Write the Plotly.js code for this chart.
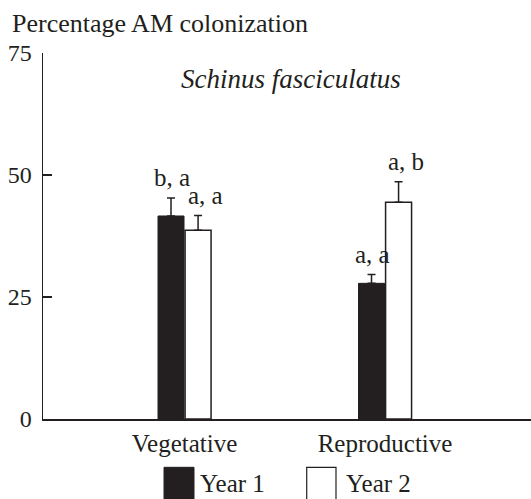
<!DOCTYPE html>
<html>
<head>
<meta charset="utf-8">
<script src="https://cdn.plot.ly/plotly-3.0.1.min.js"></script>
<style>html,body{margin:0;padding:0;background:#fff;}#chart{width:531px;height:499px;}</style>
</head>
<body>
<div id="chart"></div>
<script>
var categories = ["Vegetative", "Reproductive"];
var year1 = [41.6, 27.8];
var year1Err = [3.7, 1.8];
var year2 = [38.7, 44.4];
var year2Err = [3.0, 4.2];
var year1Letters = ["b, a", "a, a"];
var year2Letters = ["a, a", "a, b"];
var yTicks = [0, 25, 50, 75];

var ink = "#231f20";
var serif = "Liberation Serif, Times New Roman, serif";

var traces = [
  {
    type: "bar", name: "Year 1", x: categories, y: year1,
    marker: {color: ink, line: {color: ink, width: 1}},
    error_y: {type: "data", symmetric: false, array: year1Err, arrayminus: [0, 0], color: ink, thickness: 1.5, width: 4},
    showlegend: false, hoverinfo: "skip"
  },
  {
    type: "bar", name: "Year 2", x: categories, y: year2,
    marker: {color: "#ffffff", line: {color: ink, width: 1.5}},
    error_y: {type: "data", symmetric: false, array: year2Err, arrayminus: [0, 0], color: ink, thickness: 1.5, width: 4},
    showlegend: false, hoverinfo: "skip"
  }
];

var annotations = [];
categories.forEach(function (c, i) {
  annotations.push({x: c, y: year1[i] + year1Err[i], xref: "x", yref: "y", text: year1Letters[i],
    showarrow: false, xshift: -13, yanchor: "bottom", yshift: 5, font: {family: serif, size: 25, color: ink}});
  annotations.push({x: c, y: year2[i] + year2Err[i], xref: "x", yref: "y", text: year2Letters[i],
    showarrow: false, xshift: 21, yanchor: "bottom", yshift: 5, font: {family: serif, size: 25, color: ink}});
});
annotations.push({xref: "paper", yref: "paper", x: 0.509, y: 0.929, text: "<i>Schinus fasciculatus</i>",
  showarrow: false, xanchor: "center", yanchor: "middle", font: {family: serif, size: 27, color: ink}});
// legend labels
annotations.push({xref: "paper", yref: "paper", x: 0.3176, y: -0.1749, text: "Year 1", showarrow: false,
  xanchor: "left", yanchor: "middle", font: {family: serif, size: 25, color: ink}});
annotations.push({xref: "paper", yref: "paper", x: 0.6168, y: -0.1749, text: "Year 2", showarrow: false,
  xanchor: "left", yanchor: "middle", font: {family: serif, size: 25, color: ink}});

var shapes = [
  {type: "rect", xref: "paper", yref: "paper", x0: 0.2480, x1: 0.3094, y0: -0.1320, y1: -0.2300,
   fillcolor: ink, line: {color: ink, width: 1}},
  {type: "rect", xref: "paper", yref: "paper", x0: 0.5404, x1: 0.6004, y0: -0.1320, y1: -0.2300,
   fillcolor: "#ffffff", line: {color: ink, width: 1.2}}
];

var layout = {
  width: 531, height: 499,
  margin: {l: 43, r: 0, t: 53, b: 80, pad: 0},
  paper_bgcolor: "#ffffff", plot_bgcolor: "#ffffff",
  font: {family: serif, size: 25, color: ink},
  barmode: "group", bargap: 0.73, bargroupgap: 0.04,
  title: {text: "Percentage AM colonization", x: 0.0226, xanchor: "left", y: 0.954, yanchor: "middle",
    font: {family: serif, size: 26, color: ink}},
  xaxis: {type: "category", range: [-0.706, 1.728], showline: true, linecolor: ink, linewidth: 1.5,
    ticks: "", showgrid: false, zeroline: false, ticklabelstandoff: 1,
    tickfont: {family: serif, size: 25, color: ink}, fixedrange: true},
  yaxis: {range: [0, 75], tickvals: yTicks, ticktext: yTicks.map(String), ticks: "inside", ticklen: 9, tickwidth: 1.5,
    tickcolor: ink, showline: true, linecolor: ink, linewidth: 1.5, showgrid: false, zeroline: false,
    ticklabelstandoff: 5, tickfont: {family: serif, size: 24, color: ink}, fixedrange: true},
  annotations: annotations,
  shapes: shapes,
  showlegend: false
};

Plotly.newPlot("chart", traces, layout, {staticPlot: true, displayModeBar: false});
</script>
</body>
</html>
